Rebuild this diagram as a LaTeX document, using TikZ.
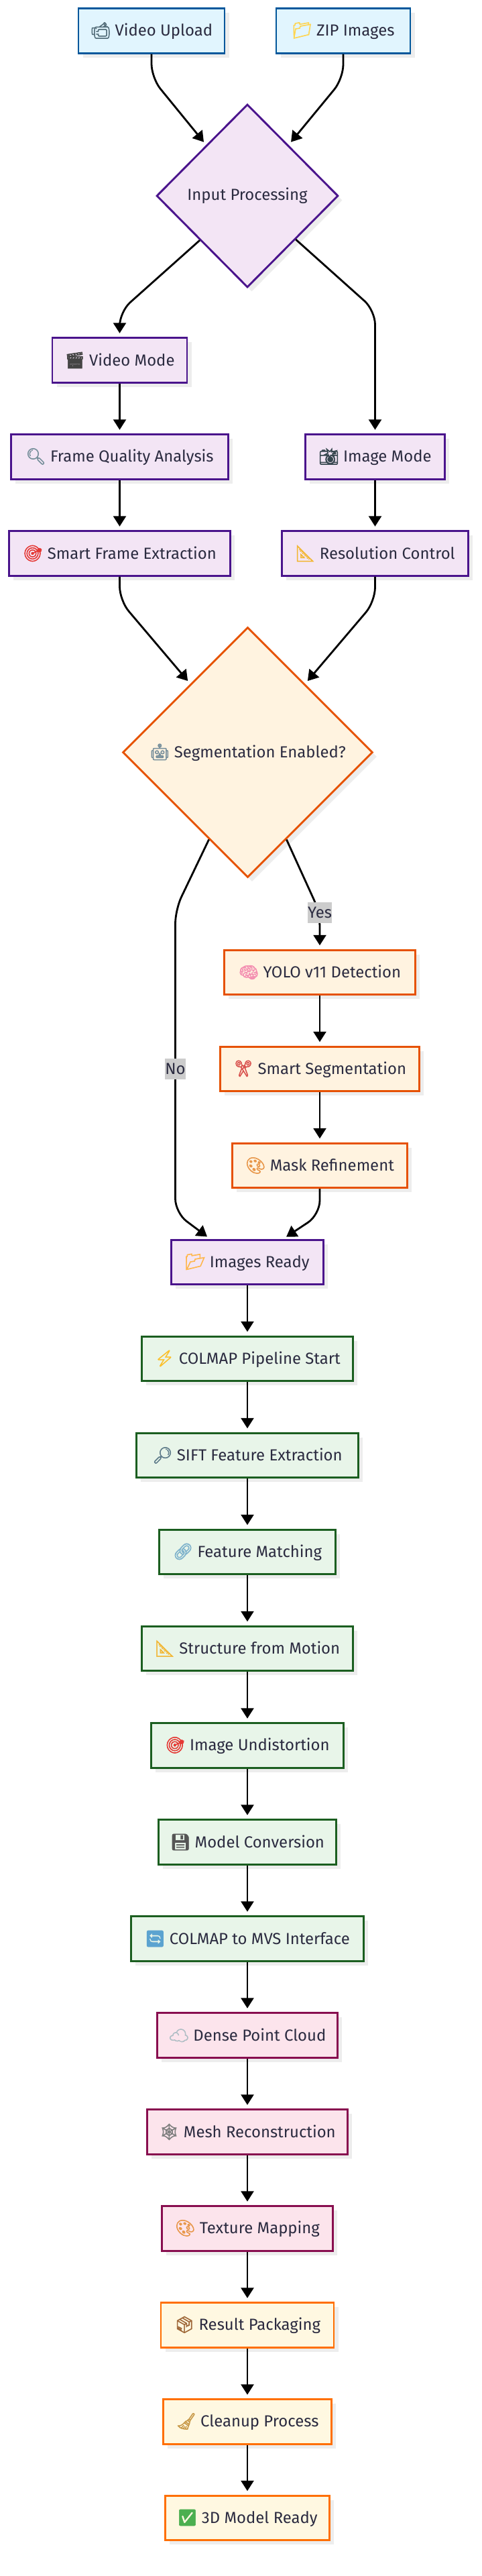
\documentclass[tikz,border=0pt]{standalone}
\usepackage{fontspec}
\usepackage{xcolor}
\usetikzlibrary{shapes.geometric,arrows.meta,positioning,shadows}
\setmainfont{Fira Sans}
\newfontfamily\emojifont[FakeBold=2.5]{Noto Emoji}
\newcommand{\emj}[2]{{\emojifont\color[HTML]{#1}#2}}
\definecolor{labeltext}{HTML}{2B2B40}
\tikzset{
  box/.style={rectangle, line width=0.058cm, minimum height=1.33cm,
              text=labeltext, font=\fontsize{13.6}{16}\selectfont,
              drop shadow={shadow xshift=0.13cm, shadow yshift=-0.13cm,
                           fill=black!7, opacity=1}},
  inputbox/.style={box, draw={rgb,255:red,1;green,87;blue,155},
                   fill={rgb,255:red,225;green,245;blue,254}},
  procbox/.style={box, draw={rgb,255:red,74;green,20;blue,140},
                  fill={rgb,255:red,243;green,229;blue,245}},
  segbox/.style={box, draw={rgb,255:red,230;green,81;blue,0},
                 fill={rgb,255:red,255;green,243;blue,224}},
  sfmbox/.style={box, draw={rgb,255:red,27;green,94;blue,32},
                 fill={rgb,255:red,232;green,245;blue,233}},
  densebox/.style={box, draw={rgb,255:red,136;green,14;blue,79},
                   fill={rgb,255:red,252;green,228;blue,236}},
  finalbox/.style={box, draw={rgb,255:red,255;green,111;blue,0},
                   fill={rgb,255:red,255;green,248;blue,225}},
  choice/.style={diamond, aspect=1, inner sep=0pt},
  flow/.style={-{Triangle[length=0.31cm,width=0.38cm]}, line width=0.056cm,
               black, shorten >=0.11cm, rounded corners=0.42cm},
  edgelabel/.style={fill=black!20, text=labeltext, sharp corners, inner sep=0pt,
                    minimum height=0.62cm, font=\fontsize{13.6}{16}\selectfont},
}

\begin{document}
\begin{tikzpicture}
\useasboundingbox (0,0) rectangle (14.38,76.8);

% ── Input ──────────────────────────────────────────────────
\node[inputbox, minimum width=4.36cm] (video) at (4.52,75.88)
      {\emj{546E7A}{📹}~Video Upload};
\node[inputbox, minimum width=4.00cm] (zip) at (10.24,75.88)
      {\emj{FFD54F}{📁}~ZIP Images};
\node[procbox, choice, minimum width=5.42cm, minimum height=5.46cm] (input) at (7.38,70.96)
      {Input Processing};

% ── Video branch (left) ────────────────────────────────────
\node[procbox, minimum width=4.02cm] (vmode) at (3.57,66.06)
      {\emj{444444}{🎬}~Video Mode};
\node[procbox, minimum width=6.48cm] (quality) at (3.57,63.18)
      {\emj{78909C}{🔍}~Frame Quality Analysis};
\node[procbox, minimum width=6.61cm] (extract) at (3.57,60.30)
      {\emj{E53935}{🎯}~Smart Frame Extraction};

% ── Image branch (right) ───────────────────────────────────
\node[procbox, minimum width=4.17cm] (imode) at (11.19,63.18)
      {\emj{37474F}{📸}~Image Mode};
\node[procbox, minimum width=5.55cm] (resol) at (11.19,60.30)
      {\emj{F2B632}{📐}~Resolution Control};

% ── Segmentation ───────────────────────────────────────────
\node[segbox, choice, minimum width=7.46cm, minimum height=7.46cm] (seg) at (7.39,54.37)
      {\emj{78909C}{🤖}~Segmentation Enabled?};
\node[segbox, minimum width=5.71cm] (yolo) at (9.54,47.81)
      {\emj{F48FB1}{🧠}~YOLO v11 Detection};
\node[segbox, minimum width=5.95cm] (smartseg) at (9.54,44.93)
      {\emj{D9534F}{✂}~Smart Segmentation};
\node[segbox, minimum width=5.21cm] (mask) at (9.54,42.05)
      {\emj{E8974A}{🎨}~Mask Refinement};
\node[procbox, minimum width=4.54cm] (ready) at (7.38,39.17)
      {\emj{FFB74D}{📂}~Images Ready};

% ── COLMAP chain ───────────────────────────────────────────
\node[sfmbox, minimum width=6.31cm] (colmap) at (7.38,36.29)
      {\emj{FBC02D}{⚡}~COLMAP Pipeline Start};
\node[sfmbox, minimum width=6.63cm] (sift) at (7.38,33.41)
      {\emj{607D8B}{🔎}~SIFT Feature Extraction};
\node[sfmbox, minimum width=5.27cm] (matching) at (7.38,30.53)
      {\emj{7FB3CC}{🔗}~Feature Matching};
\node[sfmbox, minimum width=6.31cm] (motion) at (7.38,27.65)
      {\emj{F2B632}{📐}~Structure from Motion};
\node[sfmbox, minimum width=5.74cm] (undist) at (7.38,24.76)
      {\emj{E53935}{🎯}~Image Undistortion};
\node[sfmbox, minimum width=5.31cm] (convert) at (7.38,21.88)
      {\emj{555555}{💾}~Model Conversion};
\node[sfmbox, minimum width=6.95cm] (mvsif) at (7.38,19.00)
      {\emj{5BA3D0}{🔄}~COLMAP to MVS Interface};

% ── Dense stage ────────────────────────────────────────────
\node[densebox, minimum width=5.39cm] (dense) at (7.38,16.12)
      {\emj{B0BEC5}{☁}~Dense Point Cloud};
\node[densebox, minimum width=5.99cm] (mesh) at (7.38,13.24)
      {\emj{808080}{🕸}~Mesh Reconstruction};
\node[densebox, minimum width=5.11cm] (texture) at (7.38,10.36)
      {\emj{E8974A}{🎨}~Texture Mapping};

% ── Output ─────────────────────────────────────────────────
\node[finalbox, minimum width=5.16cm] (pack) at (7.38,7.48)
      {\emj{A0693A}{📦}~Result Packaging};
\node[finalbox, minimum width=5.03cm] (clean) at (7.38,4.60)
      {\emj{C89A4A}{🧹}~Cleanup Process};
\node[finalbox, minimum width=4.91cm] (done) at (7.38,1.73)
      {\emj{4CAF50}{✅}~3D Model Ready};

% ── Bent connectors ────────────────────────────────────────
\draw[flow] (video.south) -- ++(0,-0.71) -- (input.129);
\draw[flow] (zip.south) -- ++(0,-0.73) -- (input.51);
\draw[flow] (input.223) -- ([yshift=0.75cm]vmode.north) -- (vmode.north);
\draw[flow] (input.318) -- ([yshift=3.67cm]imode.north) -- (imode.north);
\draw[flow] (extract.south) -- ++(0,-0.71) -- (seg.130);
\draw[flow] (resol.south) -- ++(0,-0.74) -- (seg.50);
\draw[flow] (seg.294) -- ([yshift=1.09cm]yolo.north) node[edgelabel, minimum width=0.72cm] (yes) {Yes} -- (yolo.north);
\coordinate (nobend) at (5.23,49.68);
\coordinate (nofoot) at (5.23,40.64);
\draw[flow] (seg.246) -- (nobend) -- node[edgelabel, pos=0.525, minimum width=0.54cm] (no) {No} (nofoot) -- (ready.148);
\draw[flow] (mask.south) -- ++(0,-0.77) -- (ready.33);

% ── Straight connectors ────────────────────────────────────
\foreach \from/\to in {vmode/quality, quality/extract, imode/resol, yolo/smartseg,
                       smartseg/mask, ready/colmap, colmap/sift, sift/matching,
                       matching/motion, motion/undist, undist/convert, convert/mvsif,
                       mvsif/dense, dense/mesh, mesh/texture, texture/pack,
                       pack/clean, clean/done}
  \draw[flow] (\from) -- (\to);

\end{tikzpicture}
\end{document}
